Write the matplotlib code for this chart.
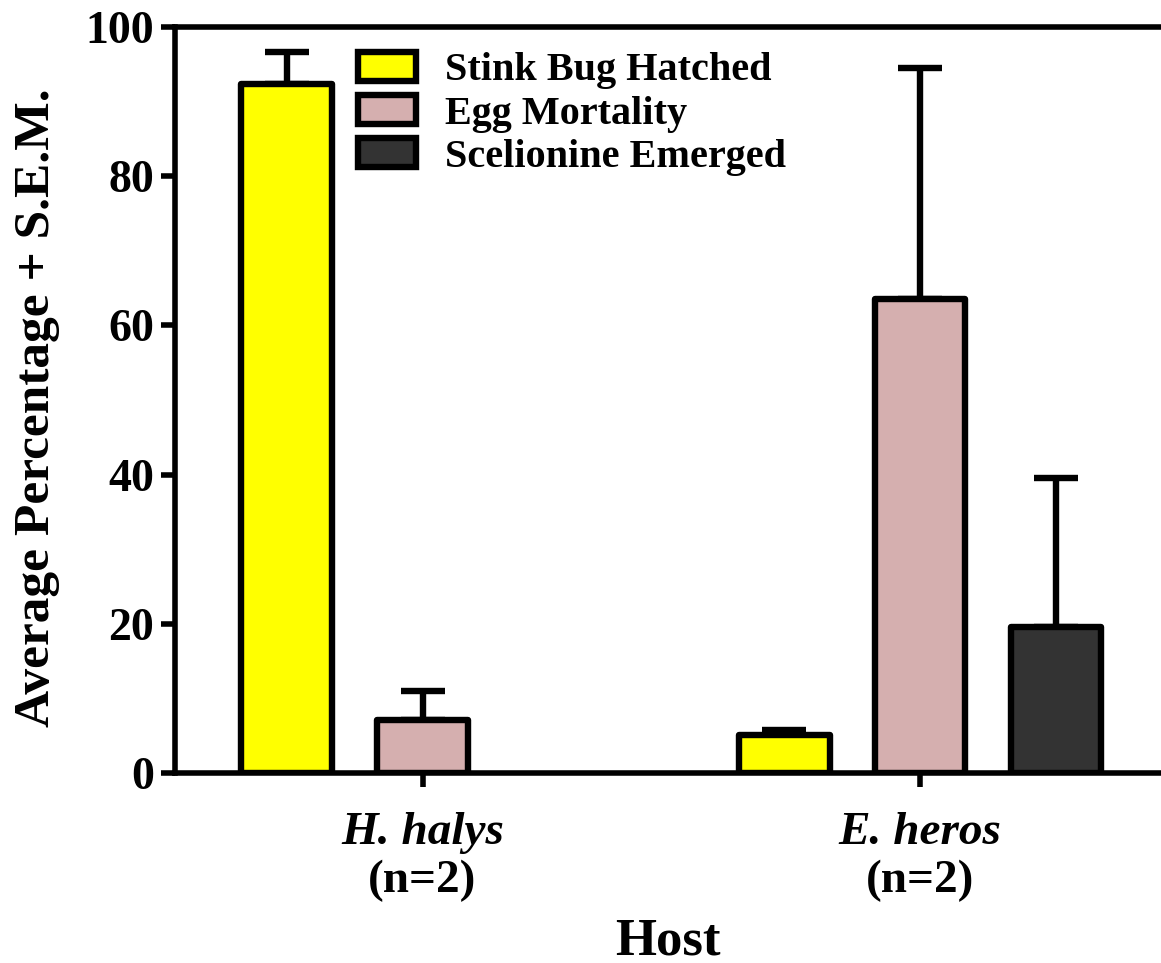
import numpy as np
import matplotlib.pyplot as plt
from matplotlib.patches import Rectangle

# mean percentages and S.E.M. per host, one list per outcome
hosts = ['H. halys', 'E. heros']
n_labels = ['(n=2)', '(n=2)']
series = ['Stink Bug Hatched', 'Egg Mortality', 'Scelionine Emerged']
hatched = [92.3, 5.1]
hatched_sem = [4.3, 0.7]
mortality = [7.1, 63.6]
mortality_sem = [3.9, 30.9]
emerged = [0.0, 19.6]
emerged_sem = [0.0, 20.0]

colors = ['#ffff00', '#d5afaf', '#333333']

plt.rcParams['font.family'] = ['Liberation Serif', 'DejaVu Serif']
plt.rcParams['font.weight'] = 'bold'

fig = plt.figure(figsize=(11.61, 9.63), dpi=100)
ax = fig.add_axes([0.1507, 0.1973, 0.8493, 0.7747])

x = np.arange(len(hosts))
offsets = [-0.273, 0.0, 0.273]
width = 0.182
means = [hatched, mortality, emerged]
sems = [hatched_sem, mortality_sem, emerged_sem]

lw = 4.6
for k in range(3):
    xs = x + offsets[k]
    bars = ax.bar(xs, means[k], width, color=colors[k], edgecolor='black',
                  linewidth=lw, zorder=3)
    for b, m in zip(bars, means[k]):
        b.set_joinstyle('round')
        if m == 0:
            b.set_linewidth(0)  # empty bar sits on the axis, nothing to outline
    # upper error bar only
    for xi, m, s in zip(xs, means[k], sems[k]):
        if s > 0:
            ax.errorbar(xi, m, yerr=[[0], [s]], fmt='none', ecolor='black',
                        elinewidth=lw, capsize=16, capthick=lw, zorder=2)

ax.set_xlim(-0.4975, 1.484)
ax.set_ylim(0, 100)
ax.set_yticks([0, 20, 40, 60, 80, 100])
ax.set_xticks(x)
ax.set_xticklabels(['', ''])

ax.spines['right'].set_visible(False)
for sp in ['left', 'bottom', 'top']:
    ax.spines[sp].set_linewidth(4)
ax.tick_params(axis='both', width=4, length=10, labelsize=33, pad=5)
for t in ax.get_yticklabels():
    t.set_fontweight('bold')

for xi, h, n in zip(x, hosts, n_labels):
    ax.annotate(h, xy=(xi, 0), xycoords=('data', 'axes fraction'),
                xytext=(0, -43), textcoords='offset points',
                ha='center', va='center', fontsize=34, fontstyle='italic',
                fontweight='bold')
    ax.annotate(n, xy=(xi, 0), xycoords=('data', 'axes fraction'),
                xytext=(0, -78), textcoords='offset points',
                ha='center', va='center', fontsize=34, fontweight='bold')

ax.annotate('Host', xy=(0.5, 0), xycoords='axes fraction',
            xytext=(0, -121), textcoords='offset points', ha='center',
            va='center', fontsize=38, fontweight='bold')
ax.annotate('Average Percentage + S.E.M.', xy=(37 / 1161, 0.49),
            xycoords=('figure fraction', 'axes fraction'), rotation=90,
            ha='center', va='center', fontsize=37, fontweight='bold')

handles = [Rectangle((0, 0), 1, 1, facecolor=c, edgecolor='black',
                     linewidth=lw, joinstyle='round') for c in colors]
leg = ax.legend(handles, series, loc='upper left',
                bbox_to_anchor=(358 / 1161, 1 - 52 / 963),
                bbox_transform=fig.transFigure, frameon=False,
                fontsize=29, borderpad=0, borderaxespad=0,
                handlelength=1.45, handleheight=0.72, handletextpad=0.7,
                labelspacing=0.14)
for t in leg.get_texts():
    t.set_fontweight('bold')

fig.savefig('out.png', dpi=100)
